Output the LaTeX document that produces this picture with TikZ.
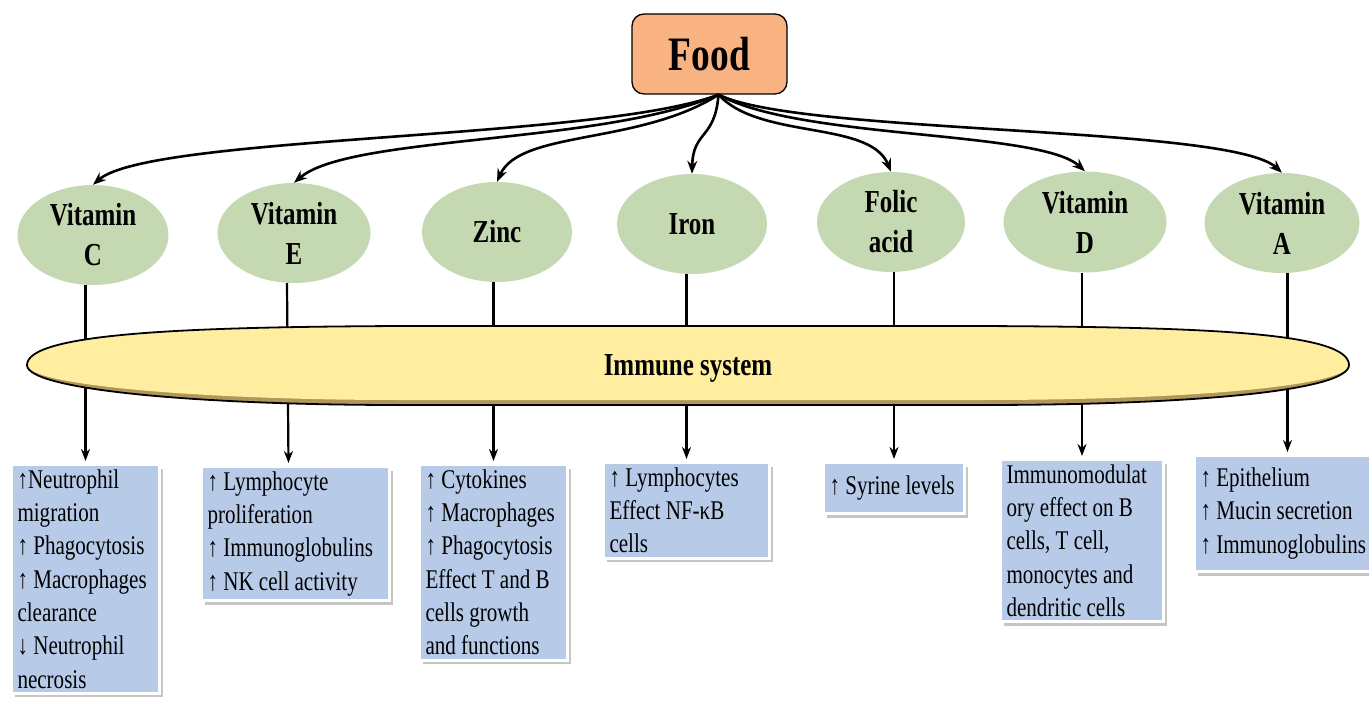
\documentclass[tikz,border=0pt]{standalone}
\usepackage{fontspec}
\setmainfont{Liberation Serif}[FakeStretch=0.78]
\usetikzlibrary{shapes.geometric,arrows.meta,shadows}
\pgfdeclarelayer{bg}
\pgfdeclarelayer{mid}
\pgfsetlayers{bg,mid,main}
\definecolor{boxblue}{RGB}{183,203,233}
\definecolor{vitgreen}{RGB}{196,217,178}
\definecolor{foodorange}{RGB}{249,178,130}
\definecolor{immyellow}{RGB}{255,238,160}
\definecolor{immbrown}{RGB}{176,150,90}
\newcommand{\immpath}[1]{(27,-365) .. controls (27,-332) and (200,-327) .. (400,-326) -- (980,-326) .. controls (1200,-327) and (1349,-332) .. (1349,-365) .. controls (1349,-390+#1) and (1200,-405+#1) .. (980,-405+#1) -- (400,-405+#1) .. controls (200,-405+#1) and (27,-390+#1) .. cycle}
\begin{document}
\begin{tikzpicture}[x=1pt,y=1pt,
  vit/.style={ellipse, fill=vitgreen, inner sep=0pt, align=center, font=\fontsize{32}{40}\selectfont\bfseries},
  effbox/.style={anchor=north west, fill=boxblue, draw=white, line width=3pt, inner xsep=6pt, inner ysep=5pt, align=left, font=\fontsize{27}{33.3}\selectfont, drop shadow={shadow xshift=3pt, shadow yshift=-4pt, fill=black!45, opacity=.5}, execute at begin node={\hyphenpenalty=10000 \exhyphenpenalty=10000 \spaceskip=0pt \xspaceskip=0pt }},
  feed/.style={line width=2.6pt, -{Stealth[length=13pt,width=10pt]}},
  link/.style={line width=2.2pt, -{Stealth[length=12pt,width=9pt]}, shorten >=2pt}
]
\useasboundingbox (0,0) rectangle (1369,-701);

% Food
\node[draw=black, line width=1.3pt, rounded corners=12pt, fill=foodorange, minimum width=155pt, minimum height=80pt, font=\fontsize{48}{56}\selectfont\bfseries] (food) at (709.5,-54) {Food};
\coordinate (src) at ([xshift=9pt]food.south);

% nutrients
\node[vit, minimum width=151pt, minimum height=100pt] (vc) at (93,-235) {Vitamin\\C};
\node[vit, minimum width=153pt, minimum height=100pt] (ve) at (294,-233) {Vitamin\\E};
\node[vit, minimum width=150pt, minimum height=100pt] (zn) at (497,-232) {Zinc};
\node[vit, minimum width=150pt, minimum height=100pt] (fe) at (692,-224) {Iron};
\node[vit, minimum width=148pt, minimum height=100pt] (fa) at (891,-222) {Folic\\acid};
\node[vit, minimum width=163pt, minimum height=101pt] (vd) at (1085,-222) {Vitamin\\D};
\node[vit, minimum width=155pt, minimum height=100pt] (va) at (1282,-223) {Vitamin\\A};

% immune system
\node[font=\fontsize{32}{38}\selectfont\bfseries] (imm) at (688,-368) {Immune system};
\begin{pgfonlayer}{mid}
\fill[immbrown] \immpath{0};
\fill[immyellow] \immpath{5};
\draw[line width=1.8pt] \immpath{0};
\end{pgfonlayer}

% effect boxes
\node[effbox, text width=136pt] (b1) at (10,-463) {↑Neutrophil\\migration\\↑~Phagocytosis\\↑~Macrophages\\clearance\\↓~Neutrophil\\necrosis};
\node[effbox, text width=176pt] (b2) at (200,-465) {↑~Lymphocyte\\proliferation\\↑~Immunoglobulins\\↑~NK~cell~activity};
\node[effbox, text width=136pt] (b3) at (418,-463) {↑~Cytokines\\↑~Macrophages\\↑~Phagocytosis\\Effect~T~and~B\\cells~growth\\and~functions};
\node[effbox, text width=154pt] (b4) at (602,-461) {↑~Lymphocytes\\Effect~NF-κB\\cells};
\node[effbox, text width=129pt, minimum height=51pt] (b5) at (822,-461) {↑~Syrine~levels};
\node[effbox, text width=151pt] (b6) at (999,-458) {Immunomodulat\\ory~effect~on~B\\cells,~T~cell,\\monocytes~and\\dendritic~cells};
\node[effbox, text width=174pt, minimum height=116pt] (b7) at (1193,-454) {↑~Epithelium\\↑~Mucin~secretion\\↑~Immunoglobulins};

% food to nutrients
\draw[feed] (src) .. controls (600,-140) and (150,-135) .. (vc.north);
\draw[feed] (src) .. controls (600,-145) and (350,-135) .. (ve.north);
\draw[feed] (src) .. controls (640,-145) and (520,-130) .. (zn.north);
\draw[feed] (src) .. controls (715,-140) and (693,-130) .. (fe.north);
\draw[feed] (src) .. controls (760,-140) and (870,-120) .. (fa.north);
\draw[feed] (src) .. controls (800,-140) and (1040,-130) .. (vd.north);
\draw[feed] (src) .. controls (800,-135) and (1230,-125) .. (va.north);

% nutrients through immune system to effects
\begin{pgfonlayer}{bg}
\draw[link] (vc.south -| b1.north) -- (b1.north);
\draw[link] ([xshift=-7pt]ve.south) -- ([xshift=-7pt]b2.north);
\draw[link] (zn.south -| b3.north) -- (b3.north);
\draw[link] (fe.south -| b4.north) -- (b4.north);
\draw[link] (fa.south -| b5.north) -- (b5.north);
\draw[link] (vd.south -| b6.north) -- (b6.north);
\draw[link] (va.south -| b7.north) -- (b7.north);
\end{pgfonlayer}
\end{tikzpicture}
\end{document}
